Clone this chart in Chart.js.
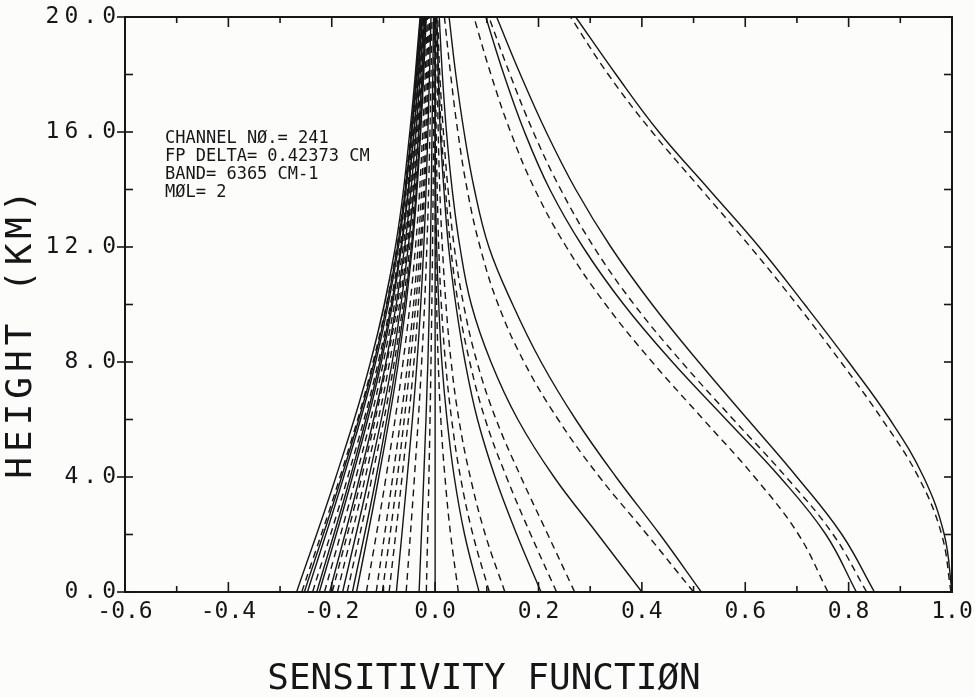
<!DOCTYPE html>
<html><head><meta charset="utf-8">
<script src="https://cdn.jsdelivr.net/npm/chart.js@4.4.1/dist/chart.umd.min.js"></script>
<style>html,body{margin:0;padding:0;background:#fcfcfb;} #wrap{width:975px;height:697px;position:relative;}</style>
</head><body><div id="wrap"><canvas id="c" width="975" height="697"></canvas></div>
<script>
// Heights (km) at which the curves are sampled
const heightsFine = [0, 2, 4, 6, 8, 10, 12, 14, 16, 18, 20];
const heightsCoarse = [0, 4, 8, 12, 16, 20];

// Left bundle: sensitivity values at heightsCoarse
const bundleX = [
  [-0.268, -0.192, -0.125, -0.077, -0.049, -0.029],
  [-0.258, -0.184, -0.120, -0.074, -0.047, -0.028],
  [-0.253, -0.181, -0.118, -0.073, -0.046, -0.028],
  [-0.247, -0.177, -0.115, -0.071, -0.045, -0.027],
  [-0.237, -0.169, -0.110, -0.068, -0.043, -0.026],
  [-0.229, -0.164, -0.107, -0.066, -0.041, -0.025],
  [-0.224, -0.160, -0.104, -0.065, -0.041, -0.025],
  [-0.214, -0.153, -0.100, -0.062, -0.039, -0.024],
  [-0.204, -0.146, -0.095, -0.059, -0.037, -0.022],
  [-0.199, -0.142, -0.093, -0.057, -0.036, -0.022],
  [-0.189, -0.135, -0.088, -0.054, -0.034, -0.021],
  [-0.179, -0.128, -0.083, -0.052, -0.032, -0.020],
  [-0.170, -0.122, -0.079, -0.049, -0.031, -0.019],
  [-0.160, -0.114, -0.075, -0.046, -0.029, -0.018],
  [-0.152, -0.109, -0.071, -0.044, -0.028, -0.017],
  [-0.133, -0.095, -0.062, -0.038, -0.024, -0.015],
  [-0.114, -0.082, -0.053, -0.033, -0.021, -0.013],
  [-0.102, -0.073, -0.048, -0.029, -0.018, -0.011],
  [-0.089, -0.064, -0.041, -0.026, -0.016, -0.010],
  [-0.075, -0.054, -0.035, -0.022, -0.014, -0.008],
  [-0.056, -0.040, -0.026, -0.016, -0.010, -0.006],
  [-0.031, -0.022, -0.014, -0.009, -0.006, -0.003],
  [-0.017, -0.012, -0.008, -0.005, -0.003, -0.002]
];
const bundleDashed = [false, true, false, false, true, false, false, true, false, true, true, false,
  true, false, false, true, true, true, true, false, true, false, true];

// Right fan: sensitivity values at heightsFine
const fanX = [
  [0, 0, 0, 0, 0, 0, 0, 0, 0, 0, 0],
  [0.045, 0.030, 0.019, 0.011, 0.006, 0.003, 0.001, 0.0, 0.0, 0.0, 0.0],
  [0.085, 0.057, 0.037, 0.023, 0.013, 0.007, 0.003, 0.001, 0.0, 0.0, 0.0],
  [0.105, 0.073, 0.049, 0.032, 0.020, 0.012, 0.007, 0.004, 0.002, 0.001, 0.0],
  [0.135, 0.097, 0.068, 0.046, 0.031, 0.021, 0.014, 0.009, 0.006, 0.004, 0.002],
  [0.205, 0.158, 0.116, 0.082, 0.058, 0.040, 0.026, 0.017, 0.010, 0.006, 0.003],
  [0.235, 0.185, 0.138, 0.097, 0.067, 0.045, 0.030, 0.020, 0.012, 0.007, 0.003],
  [0.270, 0.218, 0.166, 0.118, 0.081, 0.055, 0.037, 0.025, 0.016, 0.009, 0.005],
  [0.400, 0.315, 0.230, 0.160, 0.108, 0.070, 0.048, 0.033, 0.022, 0.014, 0.008],
  [0.500, 0.410, 0.318, 0.238, 0.172, 0.122, 0.087, 0.062, 0.044, 0.030, 0.018],
  [0.515, 0.435, 0.350, 0.272, 0.205, 0.150, 0.104, 0.076, 0.056, 0.040, 0.027],
  [0.760, 0.703, 0.618, 0.519, 0.420, 0.330, 0.254, 0.193, 0.146, 0.108, 0.075],
  [0.815, 0.756, 0.667, 0.563, 0.459, 0.365, 0.286, 0.222, 0.173, 0.133, 0.098],
  [0.835, 0.770, 0.679, 0.577, 0.477, 0.385, 0.307, 0.243, 0.190, 0.145, 0.104],
  [0.850, 0.787, 0.700, 0.605, 0.510, 0.420, 0.340, 0.272, 0.215, 0.165, 0.119],
  [0.998, 0.980, 0.935, 0.865, 0.785, 0.700, 0.610, 0.515, 0.420, 0.335, 0.262],
  [1.000, 0.985, 0.945, 0.880, 0.800, 0.715, 0.627, 0.530, 0.433, 0.350, 0.272]
];
const fanDashed = [false, true, false, true, true, false, true, true, false, true, false,
  true, false, true, false, true, false];

const annotationLines = ['CHANNEL NØ.= 241', 'FP DELTA= 0.42373 CM', 'BAND= 6365 CM-1', 'MØL= 2'];
const xTitle = 'SENSITIVITY FUNCTIØN';
const yTitle = 'HEIGHT (KM)';

const INK = '#161616';
const FONT = '"DejaVu Sans Mono", monospace';
const datasets = [];
function addCurve(xs, hs, dashed) {
  datasets.push({
    data: hs.map((h, k) => ({ x: xs[k], y: h })),
    showLine: true,
    borderColor: INK,
    borderWidth: 1.4,
    borderDash: dashed ? [7, 5] : [],
    pointRadius: 0,
    tension: 0.4,
    fill: false
  });
}
bundleX.forEach((xs, i) => addCurve(xs, heightsCoarse, bundleDashed[i]));
fanX.forEach((xs, i) => addCurve(xs, heightsFine, fanDashed[i]));

const framePlugin = {
  id: 'frame',
  beforeDraw(chart) {
    const ys = chart.scales.y;
    if (ys && !ys._lsPatched) {
      const orig = ys.drawLabels.bind(ys);
      ys.drawLabels = function (area) {
        const c = this.ctx; c.save(); c.letterSpacing = '5px'; orig(area); c.restore();
      };
      ys._lsPatched = true;
    }
  },
  afterDatasetsDraw(chart) {
    const { ctx, chartArea: a, scales: { x, y } } = chart;
    ctx.save();
    ctx.strokeStyle = INK;
    ctx.lineWidth = 2;
    ctx.strokeRect(a.left, a.top, a.right - a.left, a.bottom - a.top);
    ctx.lineWidth = 1.6;
    const seg = (x1, y1, x2, y2) => { ctx.beginPath(); ctx.moveTo(x1, y1); ctx.lineTo(x2, y2); ctx.stroke(); };
    for (let i = 0; i <= 16; i++) {
      const px = x.getPixelForValue(-0.6 + i * 0.1);
      const len = (i % 2 === 0) ? 10 : 6;
      seg(px, a.bottom, px, a.bottom - len);
      seg(px, a.top, px, a.top + len);
    }
    for (let j = 0; j <= 10; j++) {
      const py = y.getPixelForValue(j * 2);
      const major = j % 2 === 0;
      seg(a.left - (major ? 8 : 0), py, a.left + 8, py);
      seg(a.right, py, a.right - 8, py);
    }
    // annotation
    ctx.fillStyle = INK;
    ctx.font = '17px ' + FONT;
    ctx.textBaseline = 'alphabetic';
    ctx.textAlign = 'left';
    annotationLines.forEach((t, k) => ctx.fillText(t, 165, 143 + k * 18));
    // axis titles
    ctx.font = '36px ' + FONT;
    ctx.textAlign = 'center';
    ctx.textBaseline = 'middle';
    ctx.fillText(xTitle, 484, 680);
    ctx.translate(22, 332);
    ctx.rotate(-Math.PI / 2);
    ctx.letterSpacing = '5px';
    ctx.fillText(yTitle, 0, 0);
    ctx.restore();
  }
};

new Chart(document.getElementById('c'), {
  type: 'scatter',
  data: { datasets },
  options: {
    responsive: false,
    animation: false,
    layout: { padding: { top: 17, right: 23, left: 0, bottom: 0 } },
    plugins: { legend: { display: false }, tooltip: { enabled: false } },
    scales: {
      x: {
        type: 'linear', min: -0.6, max: 1.0,
        grid: { display: false, drawTicks: false },
        border: { display: false },
        ticks: {
          stepSize: 0.2, padding: 6, color: INK,
          font: { family: FONT, size: 23 },
          callback: v => (Math.abs(v) < 1e-9 ? 0 : v).toFixed(1)
        },
        afterFit: s => { s.height = 105; s.paddingLeft = 0; s.paddingRight = 0; }
      },
      y: {
        type: 'linear', min: 0, max: 20,
        grid: { display: false, drawTicks: false },
        border: { display: false },
        ticks: {
          stepSize: 4, padding: 4, color: INK,
          font: { family: FONT, size: 23 },
          callback: v => v.toFixed(1)
        },
        afterFit: s => { s.width = 125; s.paddingTop = 0; s.paddingBottom = 0; }
      }
    }
  },
  plugins: [framePlugin]
});
</script></body></html>
